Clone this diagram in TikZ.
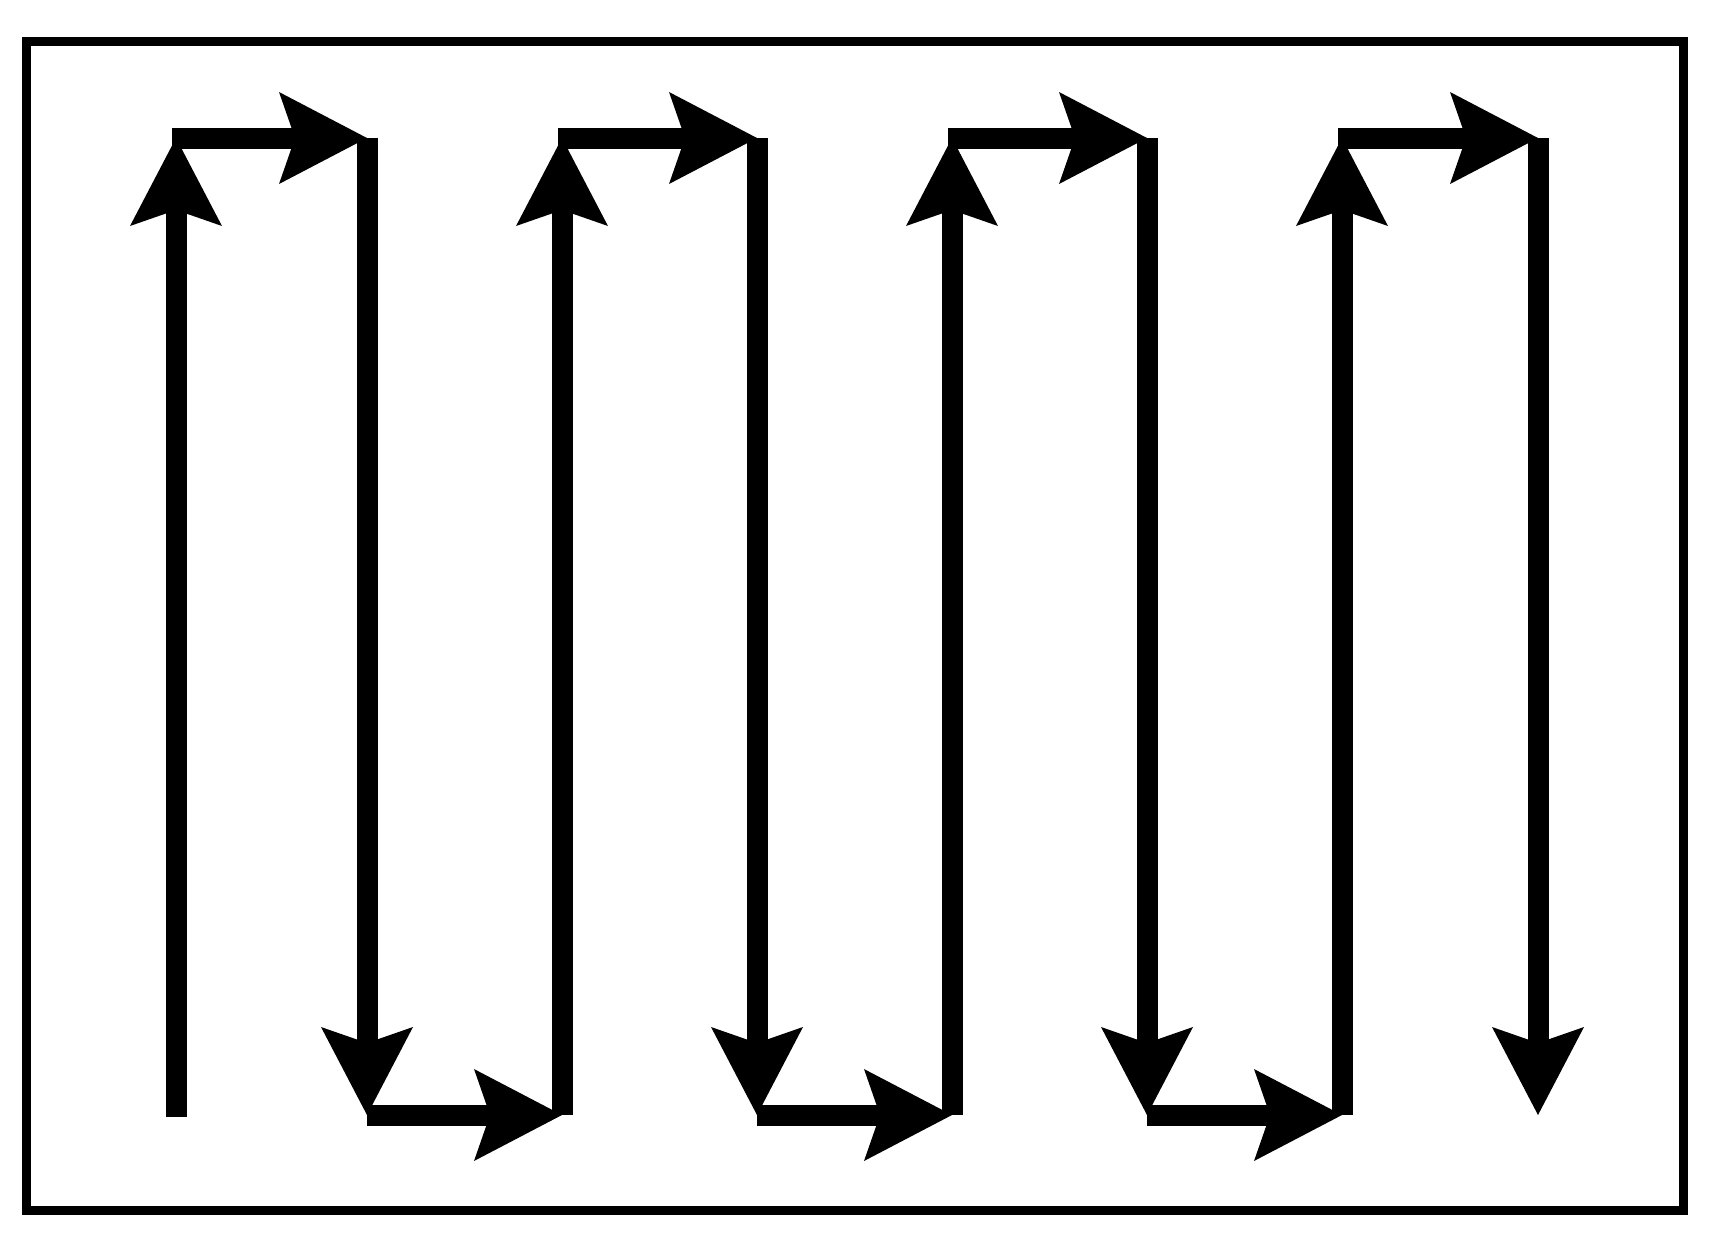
\documentclass[tikz,border=0pt]{standalone}
\usetikzlibrary{arrows.meta}
\tikzset{
  flow/.style={line width=21pt, line cap=butt, -{Stealth[length=88pt, width=92pt, inset=16pt, line width=0pt]}},
  framebox/.style={line width=9pt, draw=black}
}
\begin{document}
\begin{tikzpicture}[x=1pt, y=-1pt]
\useasboundingbox (0,0) rectangle (1713,1248);
\draw[framebox] (26,41) rectangle (1683,1210);
\foreach \i/\x in {1/176,2/367,3/562,4/757,5/952,6/1147,7/1342,8/1538} {
  \coordinate (t\i) at (\x,138);
  \coordinate (b\i) at (\x,1115);
}
% column pairs: up, right along top, down, right along bottom
\draw[flow] ([yshift=-2pt]b1) -- (t1);
\draw[flow] ([xshift=-4pt]t1) -- (t2);
\draw[flow] (t2) -- (b2);
\draw[flow] (b2) -- (b3);
\draw[flow] (b3) -- (t3);
\draw[flow] ([xshift=-4pt]t3) -- (t4);
\draw[flow] (t4) -- (b4);
\draw[flow] (b4) -- (b5);
\draw[flow] (b5) -- (t5);
\draw[flow] ([xshift=-4pt]t5) -- (t6);
\draw[flow] (t6) -- (b6);
\draw[flow] (b6) -- (b7);
\draw[flow] (b7) -- (t7);
\draw[flow] ([xshift=-4pt]t7) -- (t8);
\draw[flow] (t8) -- (b8);
\end{tikzpicture}
\end{document}
